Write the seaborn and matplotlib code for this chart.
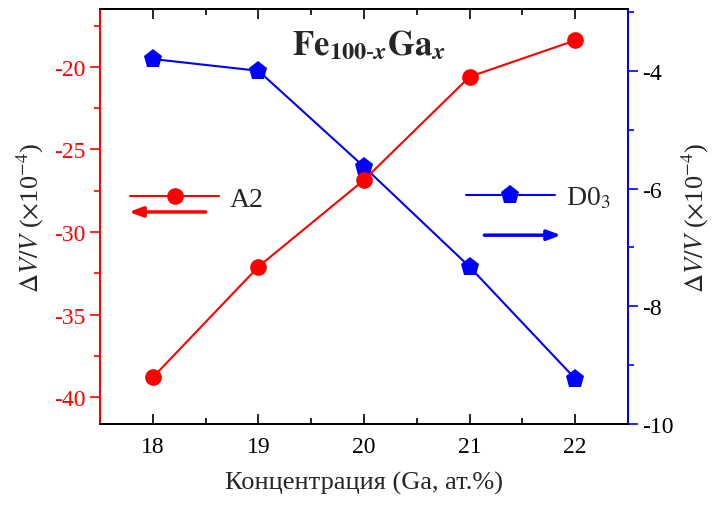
import matplotlib
matplotlib.use("Agg")
import matplotlib.pyplot as plt
from matplotlib.ticker import MultipleLocator, NullFormatter
import seaborn as sns
import pandas as pd

# Ga concentration (at.%)
ga_conc = [18, 19, 20, 21, 22]
# Volume change, x10^-4
dv_a2 = [-38.8, -32.1, -26.85, -20.6, -18.4]
dv_d03 = [-3.8, -4.0, -5.63, -7.33, -9.23]

x_ticks = [18, 19, 20, 21, 22]
left_ticks = [-40, -35, -30, -25, -20]
right_ticks = [-10, -8, -6, -4]

sns.set_style("ticks")
plt.rcParams["font.family"] = ["Liberation Serif", "DejaVu Serif"]
plt.rcParams["mathtext.fontset"] = "stix"
plt.rcParams["axes.unicode_minus"] = False

df_a2 = pd.DataFrame({"x": ga_conc, "y": dv_a2})
df_d03 = pd.DataFrame({"x": ga_conc, "y": dv_d03})

fig = plt.figure(figsize=(7.17, 5.06), dpi=100)
ax = fig.add_axes([100 / 717, 81 / 506, 528 / 717, 415 / 506])
ax2 = ax.twinx()

sns.lineplot(data=df_a2, x="x", y="y", ax=ax, color="red", marker="o",
             markersize=12, markeredgewidth=0, linewidth=1.5, label="A2",
             zorder=4)
sns.lineplot(data=df_d03, x="x", y="y", ax=ax2, color="blue", marker="p",
             markersize=14, markeredgewidth=0, linewidth=1.5,
             label="D0$_3$", zorder=3)
ax.set_zorder(ax2.get_zorder() + 1)
ax.patch.set_visible(False)

ax.set_xlim(17.5, 22.5)
ax.set_ylim(-41.62, -16.5)
ax2.set_ylim(-10, -2.95)

ax.set_xticks(x_ticks)
ax.set_yticks(left_ticks)
ax2.set_yticks(right_ticks)
ax.xaxis.set_minor_locator(MultipleLocator(0.5))
ax.yaxis.set_minor_locator(MultipleLocator(2.5))
ax2.yaxis.set_minor_locator(MultipleLocator(1))

for s in ax.spines.values():
    s.set_linewidth(1.3)
for s in ax2.spines.values():
    s.set_linewidth(1.3)
ax.spines["left"].set_color("red")
ax2.spines["left"].set_color("red")
ax.spines["right"].set_color("blue")
ax2.spines["right"].set_color("blue")
for a in (ax, ax2):
    a.spines["top"].set_color("black")
    a.spines["bottom"].set_color("black")

ax.tick_params(axis="x", which="both", direction="in", bottom=True,
               colors="black", labelsize=17, pad=9)
ax.tick_params(axis="x", which="major", length=7, width=1.2)
ax.tick_params(axis="x", which="minor", length=4, width=1.2)

# mirrored ticks along the top edge
top = ax.secondary_xaxis("top")
top.set_xticks(x_ticks)
top.xaxis.set_minor_locator(MultipleLocator(0.5))
top.xaxis.set_major_formatter(NullFormatter())
top.spines["top"].set_linewidth(1.3)
top.spines["top"].set_color("black")
top.tick_params(axis="x", which="both", direction="in", colors="black",
                width=1.2)
top.tick_params(axis="x", which="major", length=7)
top.tick_params(axis="x", which="minor", length=4)

ax.tick_params(axis="y", which="both", direction="out", color="red",
               labelcolor="red", labelsize=17, width=1.2)
ax.tick_params(axis="y", which="major", length=7)
ax.tick_params(axis="y", which="minor", length=4)
ax2.tick_params(axis="y", which="both", direction="out", color="blue",
                labelcolor="black", labelsize=17, width=1.2)
ax2.tick_params(axis="y", which="major", length=7)
ax2.tick_params(axis="y", which="minor", length=4)

ylab = r"$\mathit{\Delta V/V}$ ($\times$10$^{-4}$)"
ax.set_xlabel("Концентрация (Ga, ат.%)", fontsize=19, labelpad=10)
ax.set_ylabel(ylab, fontsize=19, labelpad=6)
ax2.set_ylabel(ylab, fontsize=19, labelpad=4)

leg1 = ax.legend(loc="center left", bbox_to_anchor=(0.057, 0.542),
                 frameon=False, fontsize=20, handlelength=3.2,
                 handletextpad=0.4, borderpad=0, borderaxespad=0)
leg2 = ax2.legend(loc="center left", bbox_to_anchor=(0.693, 0.545),
                  frameon=False, fontsize=20, handlelength=3.2,
                  handletextpad=0.4, borderpad=0, borderaxespad=0)

ax.annotate("", xy=(0.055, 0.511), xytext=(0.2, 0.511),
            xycoords="axes fraction",
            arrowprops=dict(arrowstyle="-|>,head_length=0.8,head_width=0.3",
                            color="red", lw=2.5, shrinkA=0, shrinkB=0))
ax.annotate("", xy=(0.873, 0.455), xytext=(0.728, 0.455),
            xycoords="axes fraction",
            arrowprops=dict(arrowstyle="-|>,head_length=0.8,head_width=0.3",
                            color="blue", lw=2.5, shrinkA=0, shrinkB=0))

ax.text(0.51, 0.912,
        r"$\mathbf{Fe}_{\mathbf{100\text{-}}\boldsymbol{x}}\mathbf{Ga}_{\boldsymbol{x}}$",
        transform=ax.transAxes, ha="center", va="center", fontsize=25)

fig.savefig("out.png", dpi=100)
